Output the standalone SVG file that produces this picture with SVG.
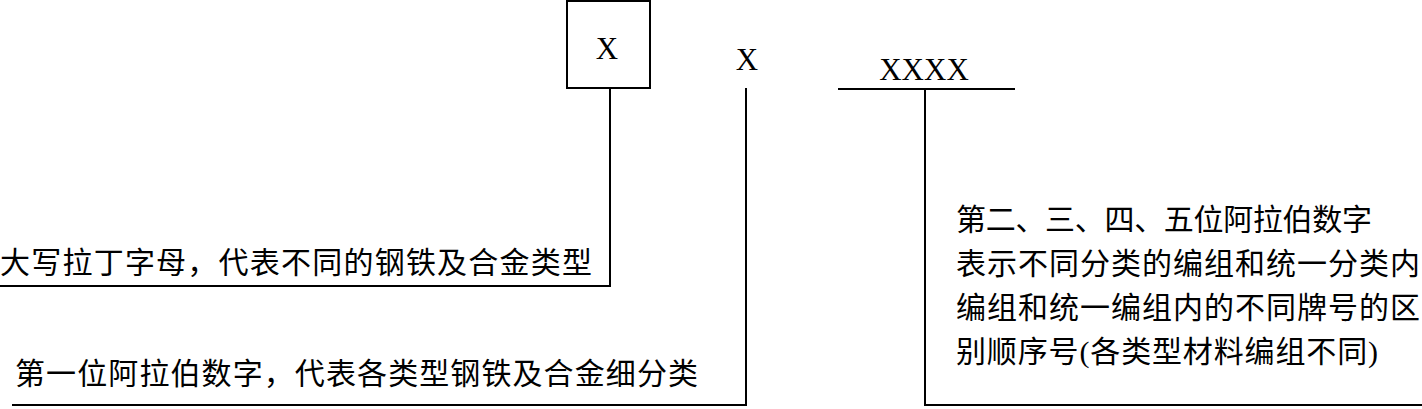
<svg xmlns="http://www.w3.org/2000/svg" width="1422" height="409" viewBox="0 0 1422 409">
<style>
.bg{fill:#ffffff}
.box{fill:none;stroke:#000;stroke-width:2}
.ln{fill:none;stroke:#000;stroke-width:2}
.lat{font-family:"Liberation Serif","Times New Roman",serif;font-size:31px;fill:#000;text-anchor:middle}
.cjk{font-family:"Liberation Serif","Noto Sans CJK SC",sans-serif;font-size:30px;fill:#000}
</style>
<rect class="bg" x="0" y="0" width="1422" height="409"/>
<g id="node-letter">
  <rect class="box" x="567" y="1" width="83" height="87"/>
  <text class="lat" x="607" y="59">X</text>
</g>
<g id="node-digit1">
  <text class="lat" x="747" y="70">X</text>
</g>
<g id="node-digits2to5">
  <text class="lat" x="924" y="80">XXXX</text>
  <line class="ln" x1="838" y1="89" x2="1015" y2="89"/>
</g>
<g id="label-letter">
  <text class="cjk" x="0" y="273" textLength="592" lengthAdjust="spacing">大写拉丁字母，代表不同的钢铁及合金类型</text>
</g>
<g id="label-digit1">
  <text class="cjk" x="15" y="384" textLength="683" lengthAdjust="spacing">第一位阿拉伯数字，代表各类型钢铁及合金细分类</text>
</g>
<g id="label-digits2to5">
  <text class="cjk" x="956" y="230" textLength="416" lengthAdjust="spacing">第二、三、四、五位阿拉伯数字</text>
  <text class="cjk" x="956" y="274" textLength="464" lengthAdjust="spacing">表示不同分类的编组和统一分类内</text>
  <text class="cjk" x="956" y="318" textLength="464" lengthAdjust="spacing">编组和统一编组内的不同牌号的区</text>
  <text class="cjk" x="956" y="362" textLength="422" lengthAdjust="spacing">别顺序号(各类型材料编组不同)</text>
</g>
<g id="connectors">
  <polyline class="ln" points="610,88 610,286 0,286"/>
  <polyline class="ln" points="746,88 746,405 12,405"/>
  <polyline class="ln" points="925,89 925,405 1422,405"/>
</g>
</svg>
